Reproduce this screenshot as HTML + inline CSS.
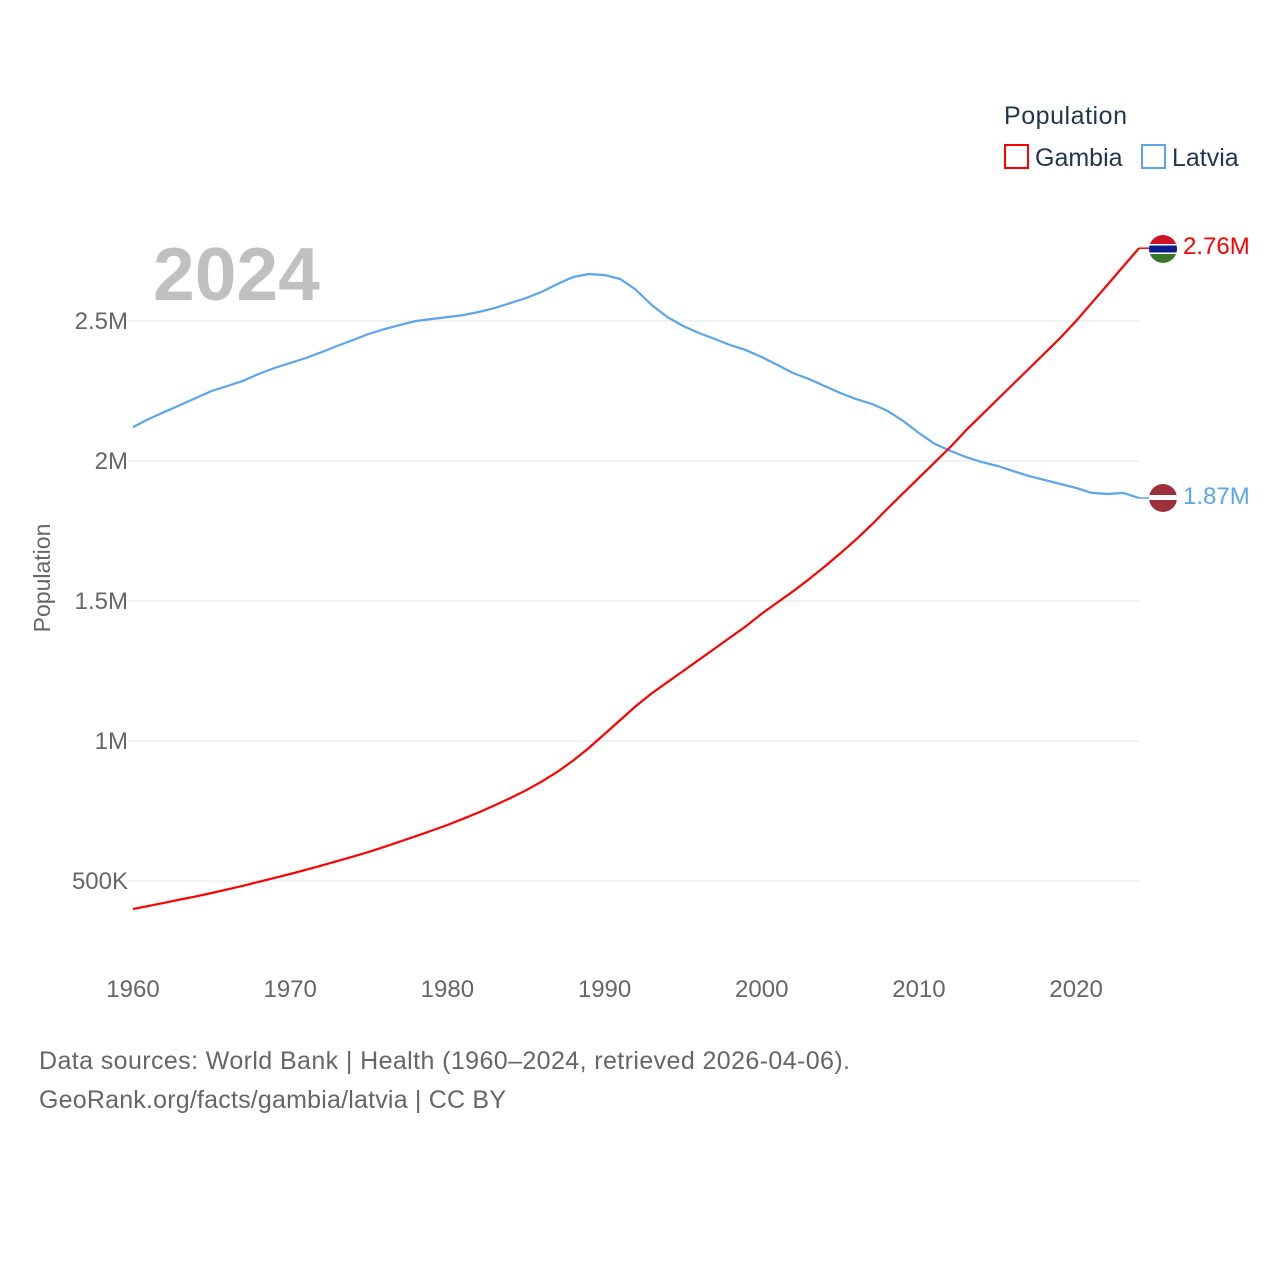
<!DOCTYPE html>
<html><head><meta charset="utf-8"><style>
body{margin:0;background:#fff;width:1280px;height:1280px;overflow:hidden;font-family:"Liberation Sans",sans-serif}
</style></head><body>
<svg id="chart" width="1280" height="1280" xmlns="http://www.w3.org/2000/svg" font-family="Liberation Sans, sans-serif">
<g id="grid"></g>
<g id="yticks"></g>
<g id="xticks"></g>
<text x="153" y="300" font-size="75" font-weight="bold" fill="#c0c0c0">2024</text>
<text transform="translate(50,578) rotate(-90)" text-anchor="middle" font-size="23" fill="#666">Population</text>
<g id="lines"></g>
<g>
<text x="1004" y="124" font-size="25" fill="#1f3550" textLength="123">Population</text>
<g><rect x="1005" y="145" width="23" height="23" fill="none" stroke="#ff0000" stroke-width="2"/><text x="1035" y="166" font-size="25" fill="#1f3550">Gambia</text></g>
<g><rect x="1142" y="145" width="23" height="23" fill="none" stroke="#5aa5ec" stroke-width="2"/><text x="1172" y="166" font-size="25" fill="#1f3550">Latvia</text></g>
</g>
<g>
<clipPath id="cg"><circle cx="1163" cy="249" r="14"/></clipPath>
<g clip-path="url(#cg)"><rect x="1149" y="235" width="28" height="10" fill="#ce1126"/><rect x="1149" y="244" width="28" height="10" fill="#fff"/><rect x="1149" y="245.5" width="28" height="7" fill="#0c1c8c"/><rect x="1149" y="254" width="28" height="10" fill="#3a7728"/></g>
</g>
<g>
<clipPath id="cl"><circle cx="1163" cy="498" r="14"/></clipPath>
<g clip-path="url(#cl)"><rect x="1149" y="484" width="28" height="28" fill="#9e3039"/><rect x="1149" y="495" width="28" height="5" fill="#fff"/></g>
</g>
<text x="1183" y="254" font-size="24" fill="#ff0000">2.76M</text>
<text x="1183" y="504" font-size="24" fill="#5aa5ec">1.87M</text>
<text x="39" y="1069" font-size="25" fill="#666" textLength="811">Data sources: World Bank | Health (1960–2024, retrieved 2026-04-06).</text>
<text x="39" y="1108" font-size="25" fill="#666" textLength="467">GeoRank.org/facts/gambia/latvia | CC BY</text>
</svg>
<script>
const years=[];for(let y=1960;y<=2024;y++)years.push(y);
const gambia=[0.400,0.411,0.422,0.434,0.445,0.457,0.470,0.483,0.497,0.511,0.525,0.540,0.555,0.571,0.587,0.604,0.622,0.641,0.660,0.680,0.700,0.722,0.745,0.770,0.796,0.824,0.855,0.890,0.930,0.975,1.025,1.075,1.125,1.170,1.210,1.250,1.290,1.330,1.370,1.410,1.455,1.495,1.535,1.578,1.623,1.670,1.720,1.773,1.830,1.885,1.940,1.995,2.050,2.110,2.165,2.220,2.275,2.330,2.385,2.440,2.500,2.565,2.630,2.695,2.760];
const latvia=[2.121,2.150,2.175,2.200,2.225,2.250,2.268,2.286,2.311,2.332,2.350,2.368,2.389,2.411,2.432,2.454,2.471,2.486,2.500,2.507,2.514,2.521,2.532,2.546,2.564,2.582,2.604,2.632,2.657,2.668,2.664,2.650,2.611,2.557,2.514,2.482,2.457,2.436,2.414,2.396,2.371,2.343,2.314,2.293,2.268,2.243,2.221,2.204,2.179,2.143,2.100,2.061,2.036,2.014,1.996,1.982,1.964,1.946,1.932,1.918,1.904,1.886,1.882,1.886,1.868];
const yTicks=[0.5,1,1.5,2,2.5];
const yTickLabels=["500K","1M","1.5M","2M","2.5M"];
const xTicks=[1960,1970,1980,1990,2000,2010,2020];
const NS="http://www.w3.org/2000/svg";
const xs=y=>133+(y-1960)*(1139-133)/64;
const ys=v=>321+(2.5-v)*280;
function mk(tag,attrs,parent){const e=document.createElementNS(NS,tag);for(const k in attrs)e.setAttribute(k,attrs[k]);parent.appendChild(e);return e;}
const grid=document.getElementById('grid'),yt=document.getElementById('yticks'),xt=document.getElementById('xticks'),lines=document.getElementById('lines');
yTicks.forEach((v,i)=>{
 const l=mk('line',{x1:128,x2:1139,y1:ys(v),y2:ys(v),stroke:'#e6e6e6','stroke-width':1},grid);
 
 
 const t=mk('text',{x:128,y:ys(v)+8,'text-anchor':'end','font-size':24,fill:'#666'},yt);
 t.textContent=yTickLabels[i];
 
 
});
xTicks.forEach(y=>{
 const t=mk('text',{x:xs(y),y:997,'text-anchor':'middle','font-size':24,fill:'#666'},xt);
 t.textContent=y;
 
 
});
function line(data,color,name){
 const d=data.map((v,i)=>(i?'L':'M')+xs(years[i]).toFixed(1)+','+ys(v).toFixed(1)).join('');
 const p=mk('path',{d:d,fill:'none',stroke:color,'stroke-width':2.2,'stroke-linejoin':'round'},lines);
 
 
 const last=data[data.length-1];
 const c=mk('line',{x1:xs(2024),x2:1150,y1:ys(last),y2:ys(last),stroke:color,'stroke-width':1.5},lines);
 
 
}
line(latvia,'#5aa5ec','line-latvia');
line(gambia,'#ff0000','line-gambia');
</script>
</body></html>
